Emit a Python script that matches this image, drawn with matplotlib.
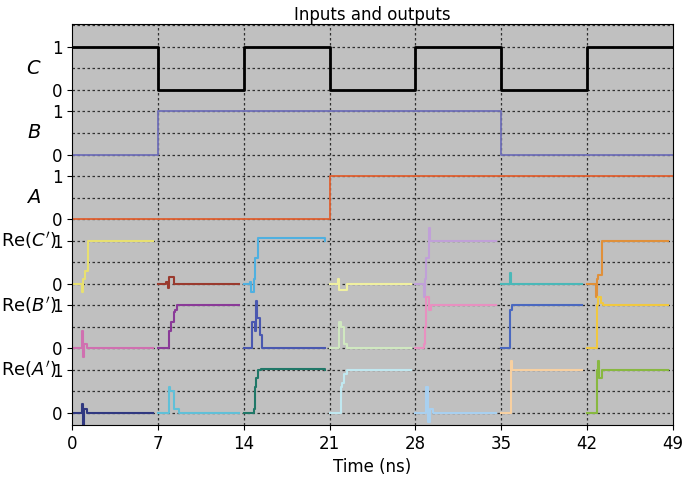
import matplotlib
matplotlib.use("Agg")
import matplotlib.pyplot as plt

title = "Inputs and outputs"
xlabel = "Time (ns)"
xticks = [0, 7, 14, 21, 28, 35, 42, 49]
row_labels = ["$C$", "$B$", "$A$", "Re($C'$)", "Re($B'$)", "Re($A'$)"]

# inputs: switching times and levels
C_t = [0, 7, 7, 14, 14, 21, 21, 28, 28, 35, 35, 42, 42, 49]
C_v = [1, 1, 0, 0, 1, 1, 0, 0, 1, 1, 0, 0, 1, 1]
B_t = [0, 7, 7, 35, 35, 49]
B_v = [0, 0, 1, 1, 0, 0]
A_t = [0, 21, 21, 49]
A_v = [0, 0, 1, 1]

# outputs: per 7-ns window, (relative times, values) step traces
ReC_segs = [
    ([0, 0.6, 0.8, 0.9, 1.1, 1.3, 6.6], [0, 0, -0.2, 0.1, 0.3, 1, 1]),
    ([0, 0.7, 0.8, 0.9, 1.1, 1.3, 6.6], [0, 0.05, -0.1, 0.15, 0.15, 0, 0]),
    ([0, 0.5, 0.6, 0.8, 0.9, 1.2, 6.6], [0, 0.05, -0.2, 0.1, 0.6, 1.05, 1]),
    ([0, 0.7, 0.8, 1.0, 1.4, 6.6], [0, 0.1, -0.15, -0.15, 0, 0]),
    ([0, 0.7, 0.8, 0.9, 1.1, 1.2, 6.6], [0, -0.3, 0.1, 0.6, 1.3, 1, 1]),
    ([0, 0.7, 0.8, 6.6], [0, 0.25, 0, 0]),
    ([0, 0.7, 0.8, 0.9, 1.2, 6.6], [0, -0.3, 0.1, 0.2, 1, 1]),
]
ReC_cols = ["#e8e070", "#9a3a2e", "#4fb0e0", "#f0f0a0", "#c0a0d8", "#4ab8b8", "#e0903a"]

ReB_segs = [
    ([0, 0.8, 0.9, 1.0, 1.2, 6.6], [0, 0.4, -0.2, 0.1, 0, 0]),
    ([0, 0.9, 1.1, 1.3, 1.4, 1.6, 6.6], [0, 0.4, 0.6, 0.85, 0.9, 1, 1]),
    ([0, 0.7, 0.9, 1.0, 1.1, 1.3, 1.5, 6.6], [0, 0.6, 0.4, 1.1, 0.7, 0.3, 0, 0]),
    ([0, 0.8, 0.9, 1.2, 1.4, 6.6], [0, 0.6, 0.5, 0.1, 0, 0]),
    ([0, 0.7, 0.8, 0.9, 1.1, 1.3, 6.6], [0, 0.1, 0.5, 1.2, 0.9, 1, 1]),
    ([0, 0.7, 0.9, 1.1, 6.6], [0, 0.9, 1.0, 1, 1]),
    ([0, 0.8, 0.9, 1.1, 1.3, 6.6], [0, 1.0, 1.2, 1.05, 1, 1]),
]
ReB_cols = ["#d070b0", "#8a3a98", "#4a58b0", "#d0e8c0", "#e890c0", "#4a68c0", "#f0c840"]

ReA_segs = [
    ([0, 0.8, 0.9, 1.0, 1.2, 6.6], [0, 0.2, -0.3, 0.1, 0, 0]),
    ([0, 0.9, 1.0, 1.3, 1.4, 1.7, 6.6], [0, 0.6, 0.5, 0.1, 0.1, 0, 0]),
    ([0, 0.8, 0.9, 1.0, 1.2, 1.4, 6.6], [0, 0.1, 0.6, 0.8, 1.0, 1.02, 1]),
    ([0, 0.9, 1.0, 1.2, 1.4, 6.6], [0, 0.6, 0.7, 0.9, 1.0, 1]),
    ([0, 0.9, 1.0, 1.2, 1.4, 6.6], [0, 0.6, -0.2, 0.1, 0, 0]),
    ([0, 0.7, 0.8, 0.9, 6.6], [0, 0, 1.2, 1.0, 1]),
    ([0, 0.8, 0.9, 1.0, 1.2, 6.6], [0, 1.0, 1.2, 0.8, 1.0, 1]),
]
ReA_cols = ["#303880", "#60c0d8", "#207868", "#c0e8f0", "#a8d0f0", "#f8d0a0", "#88b840"]

offsets = [7.5, 6.0, 4.5, 3.0, 1.5, 0.0]
label_levels = [0.5, 0.5, 0.5, 1.0, 1.0, 1.0]
window = 7

W, H = 685, 497
fig = plt.figure(figsize=(W / 100, H / 100), dpi=100)
ax_top, ax_bot = 24, 425
ax = fig.add_axes([72 / W, 1 - ax_bot / H, 601 / W, (ax_bot - ax_top) / H])
ax.set_facecolor("#c0c0c0")

ax.step(C_t, [v + offsets[0] for v in C_v], where="post", color="black", lw=2)
ax.step(B_t, [v + offsets[1] for v in B_v], where="post", color="#7070b8", lw=1.3)
ax.step(A_t, [v + offsets[2] for v in A_v], where="post", color="#e06030", lw=1.3)
for segs, cols, off in [(ReC_segs, ReC_cols, offsets[3]), (ReB_segs, ReB_cols, offsets[4]),
                        (ReA_segs, ReA_cols, offsets[5])]:
    for k, ((t, v), c) in enumerate(zip(segs, cols)):
        ax.step([k * window + x for x in t], [y + off for y in v], where="post", color=c, lw=1.5)

for k in range(19):
    ax.axhline(k * 0.5, color="#303030", ls=(0, (2, 2)), lw=0.9, zorder=0)
for x in xticks[1:-1]:
    ax.axvline(x, color="#303030", ls=(0, (2, 2)), lw=0.9, zorder=0)

ax.set_xlim(0, 49)
ax.set_ylim(-0.28, 9.03)
ax.set_xticks(xticks)
ax.tick_params(labelsize=12)
yt, yl = [], []
for off in offsets:
    yt += [off, off + 1]
    yl += ["0", "1"]
ax.set_yticks(yt)
ax.set_yticklabels(yl)

from matplotlib.transforms import blended_transform_factory
trans = blended_transform_factory(fig.transFigure, ax.transData)
for i, (lab, off, lv) in enumerate(zip(row_labels, offsets, label_levels)):
    if i < 3:
        ax.text(34 / W, off + lv, lab, ha="center", va="center", fontsize=14,
                transform=trans, clip_on=False)
    else:
        ax.text(57 / W, off + lv, lab, ha="right", va="center", fontsize=13,
                transform=trans, clip_on=False)
ax.set_xlabel(xlabel, fontsize=12)
ax.set_title(title, fontsize=12, pad=3)
fig.savefig("out.png", dpi=100)
